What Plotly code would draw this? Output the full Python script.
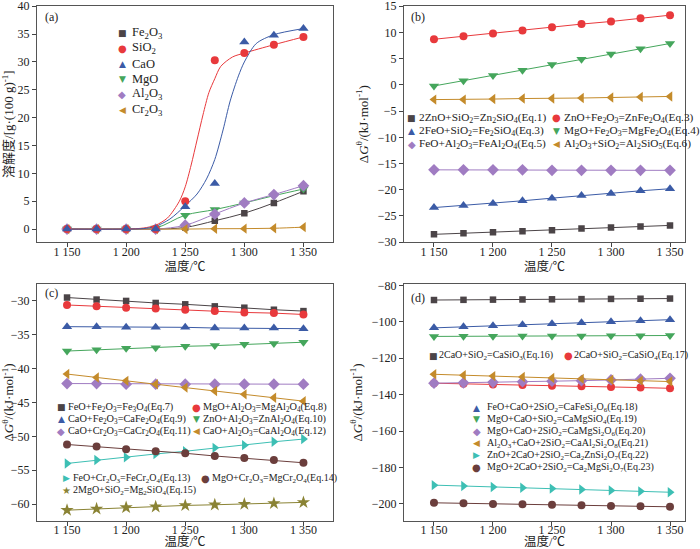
import plotly.graph_objects as go

W, H = 700, 549
SERIF = "Liberation Serif, Noto Sans CJK SC, serif"

temps = [1150, 1175, 1200, 1225, 1250, 1275, 1300, 1325, 1350]
tick_vals = [1150, 1200, 1250, 1300, 1350]
tick_text = ["1 150", "1 200", "1 250", "1 300", "1 350"]

# ---- (a) solubility, g/(100 g)
a_fe2o3 = [0, 0, 0, 0, 0.3, 1.5, 2.85, 4.7, 6.8]
a_sio2 = [0, 0, 0, 0, 5.0, 30.3, 31.6, 33.1, 34.5]
a_cao = [0, 0, 0, 0, 4.0, 8.2, 33.6, 34.8, 36.0]
a_mgo = [0, 0, 0, 0.2, 2.5, 3.5, 4.7, 6.0, 7.2]
a_al2o3 = [0, 0, 0, 0, 0.7, 2.7, 4.7, 6.2, 7.8]
a_cr2o3 = [0, 0, 0, 0, 0, 0.07, 0.08, 0.15, 0.35]
# fitted curves
sio2_fit_t = [1150, 1200, 1215, 1225, 1235, 1245, 1250, 1255, 1260, 1265, 1270, 1275, 1280, 1290, 1300, 1325, 1350]
sio2_fit_v = [0, 0, 0.2, 0.7, 2.0, 5.0, 7.6, 11.5, 16.0, 20.5, 24.5, 27.0, 29.2, 30.9, 31.6, 33.1, 34.5]
cao_fit_t = [1150, 1200, 1215, 1225, 1237, 1250, 1260, 1268, 1275, 1282, 1288, 1295, 1300, 1310, 1325, 1350]
cao_fit_v = [0, 0, 0.1, 0.5, 1.8, 4.2, 6.3, 9.0, 12.5, 17.8, 23.0, 27.5, 30.0, 33.3, 34.9, 36.0]

# ---- (b) dG, kJ/mol
b_eq1 = [-28.5, -28.3, -28.1, -27.9, -27.7, -27.4, -27.2, -27.0, -26.8]
b_eq3z = [8.7, 9.3, 9.8, 10.4, 11.0, 11.6, 12.1, 12.7, 13.3]
b_eq3f = [-23.4, -23.0, -22.6, -22.1, -21.6, -21.1, -20.7, -20.2, -19.8]
b_eq4 = [-0.2, 0.8, 1.8, 2.8, 3.9, 4.9, 5.9, 6.9, 7.9]
b_eq5 = [-16.2, -16.2, -16.2, -16.2, -16.3, -16.3, -16.3, -16.3, -16.3]
b_eq6 = [-2.8, -2.8, -2.7, -2.6, -2.6, -2.5, -2.4, -2.3, -2.2]

# ---- (c)
c_eq7 = [-29.5, -29.8, -30.0, -30.3, -30.5, -30.8, -31.0, -31.3, -31.5]
c_eq8 = [-30.6, -30.8, -31.0, -31.1, -31.3, -31.5, -31.7, -31.8, -32.0]
c_eq9 = [-33.8, -33.8, -33.9, -33.9, -33.9, -34.0, -34.0, -34.0, -34.1]
c_eq10 = [-37.4, -37.2, -37.0, -36.9, -36.7, -36.6, -36.4, -36.3, -36.1]
c_eq11 = [-42.2, -42.2, -42.3, -42.3, -42.3, -42.3, -42.3, -42.3, -42.3]
c_eq12 = [-40.8, -41.3, -41.8, -42.3, -42.8, -43.3, -43.8, -44.3, -44.8]
c_eq13 = [-54.0, -53.5, -53.1, -52.6, -52.2, -51.7, -51.3, -50.8, -50.4]
c_eq14 = [-51.2, -51.5, -51.9, -52.2, -52.5, -52.9, -53.2, -53.5, -53.9]
c_eq15 = [-60.9, -60.7, -60.5, -60.4, -60.2, -60.1, -60.0, -59.9, -59.75]

# ---- (d)
d_eq16 = [-88.0, -87.9, -87.8, -87.7, -87.6, -87.5, -87.4, -87.3, -87.2]
d_eq17 = [-133.7, -134.0, -134.4, -134.7, -135.1, -135.4, -135.8, -136.1, -136.5]
d_eq18 = [-103.3, -102.7, -102.2, -101.6, -101.0, -100.5, -99.9, -99.4, -98.8]
d_eq19 = [-108.0, -107.9, -107.9, -107.8, -107.7, -107.7, -107.6, -107.6, -107.5]
d_eq20 = [-133.7, -133.5, -133.2, -132.9, -132.6, -132.3, -131.9, -131.5, -131.0]
d_eq21 = [-128.8, -129.3, -129.8, -130.3, -130.8, -131.3, -131.8, -132.3, -132.8]
d_eq22 = [-189.7, -190.2, -190.7, -191.1, -191.6, -192.1, -192.6, -193.1, -193.6]
d_eq23 = [-199.4, -199.7, -200.0, -200.2, -200.5, -200.8, -201.1, -201.3, -201.6]

COLORS = {
    "gray": "#4b4447", "red": "#e8393c", "blue": "#3b5ba6", "green": "#45a65c",
    "purple": "#a07cc2", "gold": "#c48b2b", "teal": "#3dbfb4", "brown": "#6b3e3c",
    "olive": "#8a8334",
}
SYMBOLS = {
    "square": ("square", 6.5, "■", 9), "circle": ("circle", 8, "●", 10),
    "up": ("triangle-up", 9, "▲", 9), "down": ("triangle-down", 9, "▼", 9),
    "diamond": ("diamond", 9, "◆", 10), "left": ("triangle-left", 9, "◀", 9),
    "right": ("triangle-right", 9, "▶", 9), "star": ("star", 10, "★", 10),
}

# plot area in figure pixels
ML, MR, MT, MB = 37, 15, 6, 28
PW, PH = W - ML - MR, H - MT - MB


def fx(px):
    return (px - ML) / PW


def fy(py):
    return (H - MB - py) / PH


fig = go.Figure()
annotations = []


def add_series(ax, vals, color, sym, mode="lines+markers", shape="linear"):
    s, size, _, _ = SYMBOLS[sym]
    fig.add_trace(go.Scatter(
        x=temps, y=vals, mode=mode, xaxis="x" + ax, yaxis="y" + ax,
        line=dict(color=COLORS[color], width=1, shape=shape),
        marker=dict(symbol=s, size=size, color=COLORS[color], line=dict(width=0)),
        showlegend=False, hoverinfo="x+y"))


def legend_entry(label, color, sym, mx, tx, y, size=10.5):
    _, _, glyph, gsize = SYMBOLS[sym]
    annotations.append(dict(x=fx(mx), y=fy(y), xref="paper", yref="paper", text=glyph,
                            showarrow=False, xanchor="center", yanchor="middle",
                            font=dict(family="DejaVu Sans", size=gsize, color=COLORS[color])))
    annotations.append(dict(x=fx(tx), y=fy(y), xref="paper", yref="paper", text=label,
                            showarrow=False, xanchor="left", yanchor="middle", borderpad=0,
                            font=dict(family=SERIF, size=size, color="#222")))


# ---- panel (a)
for vals, col, sym in [(a_fe2o3, "gray", "square"), (a_mgo, "green", "down"),
                       (a_al2o3, "purple", "diamond"), (a_cr2o3, "gold", "left")]:
    add_series("", vals, col, sym, shape="spline")
fig.add_trace(go.Scatter(x=sio2_fit_t, y=sio2_fit_v, mode="lines", line=dict(color=COLORS["red"], width=1, shape="spline", smoothing=0.8),
                         showlegend=False, hoverinfo="skip"))
fig.add_trace(go.Scatter(x=cao_fit_t, y=cao_fit_v, mode="lines", line=dict(color=COLORS["blue"], width=1, shape="spline", smoothing=0.8),
                         showlegend=False, hoverinfo="skip"))
add_series("", a_sio2, "red", "circle", mode="markers")
add_series("", a_cao, "blue", "up", mode="markers")

a_legend = [("Fe<sub>2</sub>O<sub>3</sub>", "gray", "square"), ("SiO<sub>2</sub>", "red", "circle"),
            ("CaO", "blue", "up"), ("MgO", "green", "down"),
            ("Al<sub>2</sub>O<sub>3</sub>", "purple", "diamond"), ("Cr<sub>2</sub>O<sub>3</sub>", "gold", "left")]
for i, (lab, col, sym) in enumerate(a_legend):
    legend_entry(lab, col, sym, 122, 131, 33 + i * 15.3, size=12.5)

# ---- panel (b)
b_series = [
    (b_eq1, "gray", "square", "2ZnO+SiO<sub>2</sub>=Zn<sub>2</sub>SiO<sub>4</sub>(Eq.1)"),
    (b_eq3z, "red", "circle", "ZnO+Fe<sub>2</sub>O<sub>3</sub>=ZnFe<sub>2</sub>O<sub>4</sub>(Eq.3)"),
    (b_eq3f, "blue", "up", "2FeO+SiO<sub>2</sub>=Fe<sub>2</sub>SiO<sub>4</sub>(Eq.3)"),
    (b_eq4, "green", "down", "MgO+Fe<sub>2</sub>O<sub>3</sub>=MgFe<sub>2</sub>O<sub>4</sub>(Eq.4)"),
    (b_eq5, "purple", "diamond", "FeO+Al<sub>2</sub>O<sub>3</sub>=FeAl<sub>2</sub>O<sub>4</sub>(Eq.5)"),
    (b_eq6, "gold", "left", "Al<sub>2</sub>O<sub>3</sub>+SiO<sub>2</sub>=Al<sub>2</sub>SiO<sub>5</sub>(Eq.6)"),
]
for i, (vals, col, sym, lab) in enumerate(b_series):
    add_series("2", vals, col, sym)
    c, r = i % 2, i // 2
    legend_entry(lab, col, sym, [411.5, 556.5][c], [417.5, 562.5][c], 117.8 + r * 13.2, size=11.3)

# ---- panel (c)
c_series = [
    (c_eq7, "gray", "square", "FeO+Fe<sub>2</sub>O<sub>3</sub>=Fe<sub>3</sub>O<sub>4</sub>(Eq.7)"),
    (c_eq8, "red", "circle", "MgO+Al<sub>2</sub>O<sub>3</sub>=MgAl<sub>2</sub>O<sub>4</sub>(Eq.8)"),
    (c_eq9, "blue", "up", "CaO+Fe<sub>2</sub>O<sub>3</sub>=CaFe<sub>2</sub>O<sub>4</sub>(Eq.9)"),
    (c_eq10, "green", "down", "ZnO+Al<sub>2</sub>O<sub>3</sub>=ZnAl<sub>2</sub>O<sub>4</sub>(Eq.10)"),
    (c_eq11, "purple", "diamond", "CaO+Cr<sub>2</sub>O<sub>3</sub>=CaCr<sub>2</sub>O<sub>4</sub>(Eq.11)"),
    (c_eq12, "gold", "left", "CaO+Al<sub>2</sub>O<sub>3</sub>=CaAl<sub>2</sub>O<sub>4</sub>(Eq.12)"),
    (c_eq13, "teal", "right", "FeO+Cr<sub>2</sub>O<sub>3</sub>=FeCr<sub>2</sub>O<sub>4</sub>(Eq.13)"),
    (c_eq14, "brown", "circle", "MgO+Cr<sub>2</sub>O<sub>3</sub>=MgCr<sub>2</sub>O<sub>4</sub>(Eq.14)"),
    (c_eq15, "olive", "star", "2MgO+SiO<sub>2</sub>=Mg<sub>2</sub>SiO<sub>4</sub>(Eq.15)"),
]
for i, (vals, col, sym, lab) in enumerate(c_series):
    add_series("3", vals, col, sym)
    if i < 6:
        c, r = i % 2, i // 2
        legend_entry(lab, col, sym, [61, 196][c], [67, 202][c], 407.3 + r * 12.0, size=10.3)
    else:
        j = i - 6
        c, r = j % 2, j // 2
        legend_entry(lab, col, sym, [66, 205.5][c], [72, 210.5][c], 478.3 + r * 12.4, size=10)

# ---- panel (d)
d_series = [
    (d_eq16, "gray", "square", "2CaO+SiO<sub>2</sub>=CaSiO<sub>3</sub>(Eq.16)"),
    (d_eq17, "red", "circle", "2CaO+SiO<sub>2</sub>=CaSiO<sub>4</sub>(Eq.17)"),
    (d_eq18, "blue", "up", "FeO+CaO+2SiO<sub>2</sub>=CaFeSi<sub>2</sub>O<sub>6</sub>(Eq.18)"),
    (d_eq19, "green", "down", "MgO+CaO+SiO<sub>2</sub>=CaMgSiO<sub>4</sub>(Eq.19)"),
    (d_eq20, "purple", "diamond", "MgO+CaO+2SiO<sub>2</sub>=CaMgSi<sub>2</sub>O<sub>6</sub>(Eq.20)"),
    (d_eq21, "gold", "left", "Al<sub>2</sub>O<sub>3</sub>+CaO+2SiO<sub>2</sub>=CaAl<sub>2</sub>Si<sub>2</sub>O<sub>8</sub>(Eq.21)"),
    (d_eq22, "teal", "right", "ZnO+2CaO+2SiO<sub>2</sub>=Ca<sub>2</sub>ZnSi<sub>2</sub>O<sub>7</sub>(Eq.22)"),
    (d_eq23, "brown", "circle", "MgO+2CaO+2SiO<sub>2</sub>=Ca<sub>2</sub>MgSi<sub>2</sub>O<sub>7</sub>(Eq.23)"),
]
for i, (vals, col, sym, lab) in enumerate(d_series):
    add_series("4", vals, col, sym)
    if i < 2:
        legend_entry(lab, col, sym, [433.5, 568.3][i], [437.5, 573][i], 356, size=10)
    else:
        legend_entry(lab, col, sym, 476.7, 486, 407.5 + (i - 2) * 11.9, size=10)

# panel letters
for lab, px, py in [("(a)", 43, 17), ("(b)", 409, 17), ("(c)", 43, 293), ("(d)", 409, 298)]:
    annotations.append(dict(x=fx(px), y=fy(py), xref="paper", yref="paper", text=lab, showarrow=False,
                            xanchor="left", yanchor="middle", font=dict(family=SERIF, size=12, color="#222")))

dg_title = "Δ<i>G</i><sup>θ</sup>/(kJ·mol<sup>-1</sup>)"
left_dom = [fx(37), fx(333)]
right_dom = [fx(404), fx(685)]
top_dom = [fy(242.3), fy(6)]
bot_dom = [fy(521), fy(284)]

axis_style = dict(showline=True, linecolor="#555", linewidth=1, mirror=True, ticks="outside",
                  ticklen=4, tickcolor="#444", showgrid=False, zeroline=False, automargin=False,
                  ticklabeloverflow="allow",
                  tickfont=dict(family=SERIF, size=12, color="#222"))


def xax(dom, rng, anchor):
    return dict(axis_style, domain=dom, range=rng, anchor=anchor, tickvals=tick_vals, ticktext=tick_text,
                ticklabelstandoff=-6,
                title=dict(text="温度/℃", font=dict(family=SERIF, size=12.5, color="#222"), standoff=2))


def yax(dom, rng, anchor, title, dtick):
    return dict(axis_style, domain=dom, range=rng, anchor=anchor, dtick=dtick,
                title=dict(text=title, font=dict(family=SERIF, size=13, color="#222"), standoff=6))


fig.update_layout(
    width=W, height=H, margin=dict(l=ML, r=MR, t=MT, b=MB),
    paper_bgcolor="white", plot_bgcolor="white", showlegend=False,
    xaxis=xax(left_dom, [1124.6, 1375], "y"),
    yaxis=yax(top_dom, [-2.37, 40.05], "x", "溶解度/[g·(100 g)<sup>-1</sup>]", 5),
    xaxis2=xax(right_dom, [1124.6, 1362.7], "y2"),
    yaxis2=yax(top_dom, [-30.02, 15.05], "x2", dg_title, 5),
    xaxis3=xax(left_dom, [1124.6, 1375], "y3"),
    yaxis3=yax(bot_dom, [-62.5, -27.5], "x3", dg_title, 5),
    xaxis4=xax(right_dom, [1124.6, 1362.7], "y4"),
    yaxis4=yax(bot_dom, [-209.4, -79.2], "x4", dg_title, 20),
    annotations=annotations,
)

fig.write_html("out.html", config={"displayModeBar": False},
               post_script="document.body.style.margin='0';document.body.style.overflow='hidden';")
